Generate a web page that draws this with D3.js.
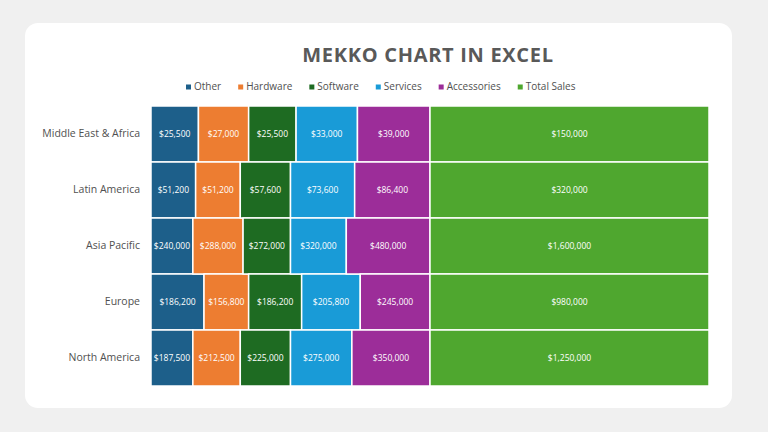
<!DOCTYPE html>
<html>
<head>
<meta charset="utf-8">
<script src="https://cdn.jsdelivr.net/npm/d3@7"></script>
<style>
  body { margin: 0; background: #f0f0f0; }
  svg { display: block; font-family: "Open Sans", "Noto Sans", sans-serif; }
</style>
</head>
<body>
<div id="chart"></div>
<script>
const regions = ["Middle East & Africa", "Latin America", "Asia Pacific", "Europe", "North America"]
const keys = ["Other", "Hardware", "Software", "Services", "Accessories", "Total Sales"]
const other = [25500, 51200, 240000, 186200, 187500]
const hardware = [27000, 51200, 288000, 156800, 212500]
const software = [25500, 57600, 272000, 186200, 225000]
const services = [33000, 73600, 320000, 205800, 275000]
const accessories = [39000, 86400, 480000, 245000, 350000]
const totalSales = [150000, 320000, 1600000, 980000, 1250000]
const colors = ["#1d5f8a", "#ed7d31", "#1e6b22", "#199bd7", "#9c2d99", "#4fa72f"]

const width = 768
const height = 432

const rows = regions.map((r, i) => ({
    region: r,
    "Other": other[i],
    "Hardware": hardware[i],
    "Software": software[i],
    "Services": services[i],
    "Accessories": accessories[i],
    "Total Sales": totalSales[i]
}))

const svg = d3.select('#chart')
    .append('svg')
        .attr('width', width)
        .attr('height', height)

// card
svg.append('rect')
    .attr('x', 25)
    .attr('y', 23)
    .attr('width', 707)
    .attr('height', 385)
    .attr('rx', 13)
    .attr('fill', '#ffffff')

svg.append('text')
    .attr('x', 428)
    .attr('y', 62)
    .attr('text-anchor', 'middle')
    .attr('font-size', 20)
    .attr('font-weight', 700)
    .attr('letter-spacing', 0.7)
    .attr('fill', '#595959')
    .text('MEKKO CHART IN EXCEL')

// legend
const legend = svg.append('g').attr('transform', 'translate(186,90)')
let lx = 0
keys.forEach((k, i) => {
    const item = legend.append('g').attr('transform', 'translate(' + lx + ',0)')
    item.append('rect')
        .attr('x', 0)
        .attr('y', -5.5)
        .attr('width', 5)
        .attr('height', 5)
        .attr('fill', colors[i])
    const t = item.append('text')
        .attr('x', 8)
        .attr('y', 0)
        .attr('font-size', 10)
        .attr('fill', '#505050')
        .text(k)
    lx += 8 + t.node().getComputedTextLength() + 17
})

const stack = d3.stack()
    .keys(keys)
    .offset(d3.stackOffsetExpand)
const series = stack(rows)

const xScale = d3.scaleLinear()
    .domain([0, 1])
    .range([151, 709])

const yScale = d3.scaleBand()
    .domain(regions)
    .range([106, 386])
    .padding(0)

const color = d3.scaleOrdinal().domain(keys).range(colors)

const layers = svg.selectAll('g.layer')
    .data(series)
    .enter()
    .append('g')
        .attr('class', 'layer')
        .attr('fill', d => color(d.key))

layers.selectAll('rect')
    .data(d => d)
    .enter()
    .append('rect')
        .attr('x', d => xScale(d[0]))
        .attr('y', d => yScale(d.data.region))
        .attr('width', d => xScale(d[1]) - xScale(d[0]))
        .attr('height', yScale.bandwidth())
        .attr('stroke', '#ffffff')
        .attr('stroke-width', 1.5)

const fmt = d3.format('$,')

layers.selectAll('text')
    .data(d => d.map(v => ({ v: v, key: d.key })))
    .enter()
    .append('text')
        .attr('x', d => (xScale(d.v[0]) + xScale(d.v[1])) / 2)
        .attr('y', d => yScale(d.v.data.region) + yScale.bandwidth() / 2 + 3)
        .attr('text-anchor', 'middle')
        .attr('font-size', 8.5)
        .attr('fill', '#ffffff')
        .text(d => fmt(d.v.data[d.key]))

// row labels
svg.append('g')
    .attr('transform', 'translate(140,0)')
    .call(d3.axisLeft(yScale).tickSize(0).tickPadding(0))
    .call(g => g.select('.domain').remove())
    .call(g => g.selectAll('text')
        .attr('font-size', 10.5)
        .attr('font-family', '"Open Sans", "Noto Sans", sans-serif')
        .attr('fill', '#505050'))
</script>
</body>
</html>
